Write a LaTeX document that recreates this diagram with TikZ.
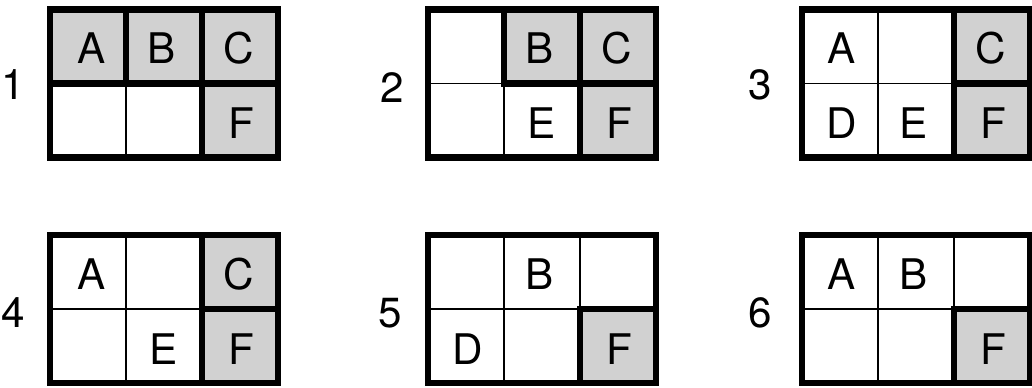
\documentclass[tikz,border=0pt]{standalone}
\usepackage{fontspec}
\setmainfont{TeX Gyre Heros}
\usepackage{tikz}
\usetikzlibrary{positioning}

\begin{document}
\begin{tikzpicture}[x=0.02cm,y=-0.02cm,
        thinline/.style={line width=0.9pt},
        thickline/.style={line width=3.6pt,line join=miter},
        shaded/.style={fill=black!18},
        letter/.style={font=\fontsize{24}{28}\selectfont},
        number/.style={font=\fontsize{24}{28}\selectfont}]
    \useasboundingbox (0,0) rectangle (1032,387);
    % thin grid lines and outer frames
    \foreach \gx/\gy in {50/9.5,428/9.5,802/9.5,50/235,428/235,802/235} {
        \begin{scope}[shift={(\gx,\gy)}]
            \draw[thinline] (76,0) -- (76,148) (152,0) -- (152,148) (0,74) -- (228,74);
            \draw[thickline] (0,0) rectangle (228,148);
        \end{scope}
    }
    % 1
    \node[number] (n1) at (13,85) {1};
    \begin{scope}[shift={(50,9.5)}]
        \draw[thickline,shaded] (0,0) rectangle (76,74);
        \draw[thickline,shaded] (76,0) rectangle (152,74);
        \draw[thickline,shaded] (152,0) rectangle (228,74);
        \draw[thickline,shaded] (152,74) rectangle (228,148);
        \node[letter] (g1a) at (42,39) {A};
        \node[letter] (g1b) at (112,39) {B};
        \node[letter] (g1c) at (189,39) {C};
        \node[letter] (g1f) at (191,114) {F};
    \end{scope}
    % 2
    \node[number] (n2) at (392,88) {2};
    \begin{scope}[shift={(428,9.5)}]
        \draw[thickline,shaded] (76,0) rectangle (152,74);
        \draw[thickline,shaded] (152,0) rectangle (228,74);
        \draw[thickline,shaded] (152,74) rectangle (228,148);
        \node[letter] (g2b) at (112,39) {B};
        \node[letter] (g2c) at (189,39) {C};
        \node[letter] (g2e) at (114,114) {E};
        \node[letter] (g2f) at (191,114) {F};
    \end{scope}
    % 3
    \node[number] (n3) at (760,85) {3};
    \begin{scope}[shift={(802,9.5)}]
        \draw[thickline,shaded] (152,0) rectangle (228,74);
        \draw[thickline,shaded] (152,74) rectangle (228,148);
        \node[letter] (g3a) at (40,39) {A};
        \node[letter] (g3c) at (189,39) {C};
        \node[letter] (g3d) at (40,114) {D};
        \node[letter] (g3e) at (112,114) {E};
        \node[letter] (g3f) at (191,114) {F};
    \end{scope}
    % 4
    \node[number] (n4) at (13,313) {4};
    \begin{scope}[shift={(50,235)}]
        \draw[thickline,shaded] (152,0) rectangle (228,74);
        \draw[thickline,shaded] (152,74) rectangle (228,148);
        \node[letter] (g4a) at (42,39) {A};
        \node[letter] (g4c) at (189,39) {C};
        \node[letter] (g4e) at (114,114) {E};
        \node[letter] (g4f) at (191,114) {F};
    \end{scope}
    % 5
    \node[number] (n5) at (390,313) {5};
    \begin{scope}[shift={(428,235)}]
        \draw[thickline,shaded] (152,74) rectangle (228,148);
        \node[letter] (g5b) at (112,39) {B};
        \node[letter] (g5d) at (40,114) {D};
        \node[letter] (g5f) at (191,114) {F};
    \end{scope}
    % 6
    \node[number] (n6) at (760,313) {6};
    \begin{scope}[shift={(802,235)}]
        \draw[thickline,shaded] (152,74) rectangle (228,148);
        \node[letter] (g6a) at (40,39) {A};
        \node[letter] (g6b) at (112,39) {B};
        \node[letter] (g6f) at (191,114) {F};
    \end{scope}
\end{tikzpicture}
\end{document}
